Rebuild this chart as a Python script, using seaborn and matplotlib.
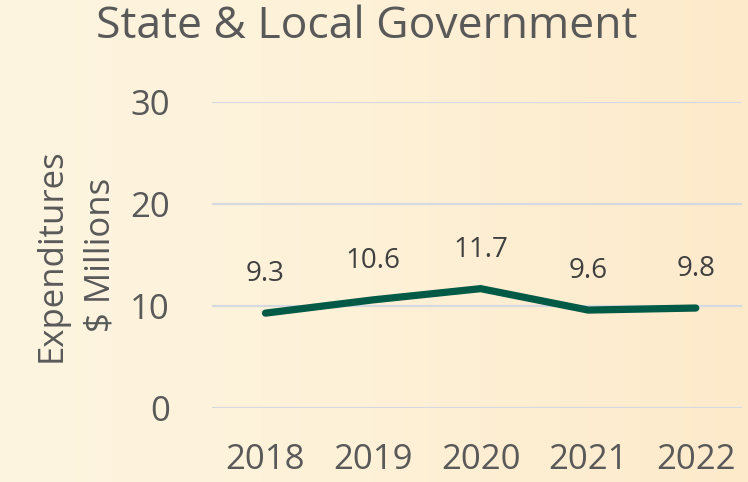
import numpy as np
import pandas as pd
import matplotlib
matplotlib.use('Agg')
import matplotlib.pyplot as plt
import seaborn as sns

# chart data
years = ['2018', '2019', '2020', '2021', '2022']
spending = [9.3, 10.6, 11.7, 9.6, 9.8]
y_ticks = [0, 10, 20, 30]

df = pd.DataFrame({'year': years, 'spending': spending})

sns.set_theme(style='white')
plt.rcParams['font.family'] = ['Open Sans', 'DejaVu Sans']

fig = plt.figure(figsize=(7.48, 4.82), dpi=100)

# warm gradient background
bg = fig.add_axes([0, 0, 1, 1], zorder=-1)
grad = np.linspace(0, 1, 256).reshape(1, -1)
cmap = matplotlib.colors.LinearSegmentedColormap.from_list('bg', ['#fdf5e1', '#fef1d7', '#fdeacb'])
bg.imshow(grad, aspect='auto', cmap=cmap, extent=[0, 1, 0, 1])
bg.axis('off')

ax = fig.add_axes([0.283, 0.1535, 0.709, 0.635])
ax.set_facecolor('none')

sns.lineplot(data=df, x='year', y='spending', ax=ax, color='#005a46',
             linewidth=5.2, solid_capstyle='round', solid_joinstyle='miter', sort=False)

for i, v in enumerate(spending):
    ax.annotate(f'{v:.1f}', (i, v), xytext=(0, 28), textcoords='offset points',
                ha='center', va='center', fontsize=20, color='#404040')

ax.set_ylim(0, 30)
ax.set_xlim(-0.5, 4.43)
ax.set_yticks(y_ticks)
ax.yaxis.grid(True, color='#d6d8e2', linewidth=1.6)
ax.set_axisbelow(True)
for s in ax.spines.values():
    s.set_visible(False)
ax.tick_params(axis='both', length=0, labelsize=25, colors='#595959')
ax.tick_params(axis='y', pad=30)
ax.tick_params(axis='x', pad=25)
ax.set_xlabel('')
ax.set_ylabel('Expenditures\n$ Millions', fontsize=25, color='#595959', linespacing=1.55)
ax.yaxis.set_label_coords(-0.178, 0.5)

fig.suptitle('State & Local Government', x=0.49, y=0.99, fontsize=32, color='#595959')

fig.savefig('out.png', dpi=100)
